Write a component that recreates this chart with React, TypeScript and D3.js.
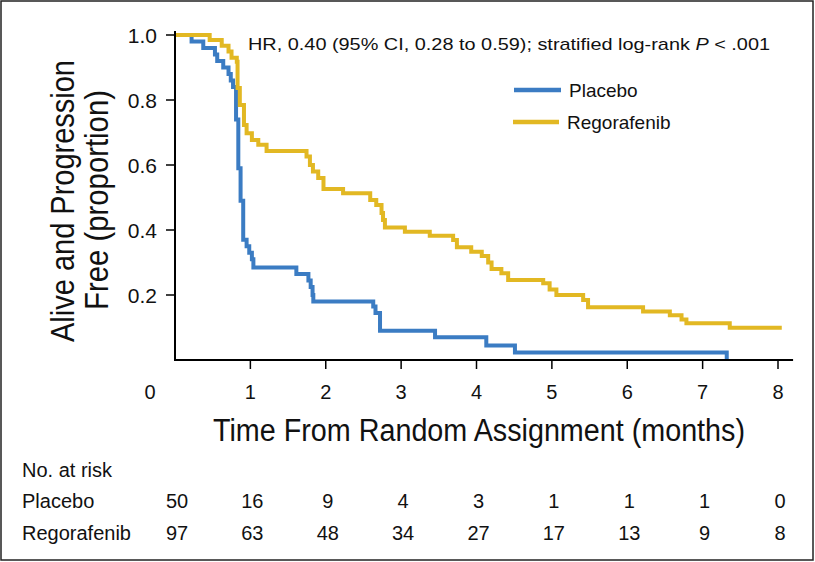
import React from 'react';
import * as d3 from 'd3';

// Kaplan-Meier step data (time in months, survival proportion after step)
const placeboTimes = [0, 0.22, 0.375, 0.53, 0.56, 0.64, 0.71, 0.74, 0.77, 0.81, 0.84, 0.87, 0.905, 0.95, 0.985, 1.02, 1.04, 1.61, 1.77, 1.8, 1.825, 1.835, 2.63, 2.66, 2.72, 3.45, 4.13, 4.51, 7.32];
const placeboSurv = [1.0, 0.98, 0.96, 0.94, 0.92, 0.9, 0.88, 0.86, 0.84, 0.74, 0.59, 0.49, 0.37, 0.35, 0.33, 0.31, 0.285, 0.265, 0.245, 0.225, 0.2, 0.18, 0.165, 0.145, 0.09, 0.07, 0.045, 0.023, 0.0];

const regoTimes = [0, 0.46, 0.62, 0.71, 0.75, 0.82, 0.83, 0.86, 0.915, 0.95, 1.02, 1.105, 1.215, 1.745, 1.79, 1.83, 1.9, 1.97, 2.23, 2.59, 2.67, 2.74, 2.76, 2.785, 3.05, 3.38, 3.69, 3.74, 3.93, 4.07, 4.155, 4.2, 4.33, 4.42, 4.885, 4.97, 5.06, 5.415, 5.48, 6.21, 6.565, 6.72, 6.785, 7.36, 8.05];
const regoSurv = [1.0, 0.985, 0.967, 0.949, 0.93, 0.918, 0.837, 0.785, 0.723, 0.698, 0.677, 0.662, 0.643, 0.626, 0.6, 0.58, 0.56, 0.526, 0.513, 0.492, 0.477, 0.452, 0.431, 0.408, 0.395, 0.382, 0.369, 0.347, 0.333, 0.32, 0.3, 0.28, 0.267, 0.246, 0.236, 0.217, 0.2, 0.185, 0.162, 0.149, 0.138, 0.125, 0.113, 0.0995, 0.0995];

const xTicks = [0, 1, 2, 3, 4, 5, 6, 7, 8];
const yTicks = [0.2, 0.4, 0.6, 0.8, 1.0];
const atRiskPlacebo = [50, 16, 9, 4, 3, 1, 1, 1, 0];
const atRiskRego = [97, 63, 48, 34, 27, 17, 13, 9, 8];

const BLUE = '#3B7CC3';
const YELLOW = '#E2B823';
const FONT = "'Liberation Sans', Arial, Helvetica, sans-serif";

export default function App() {
  const x = d3.scaleLinear().domain([0, 8]).range([175, 778]);
  const y = d3.scaleLinear().domain([0, 1]).range([360, 35]);
  const line = d3
    .line<[number, number]>()
    .x((d) => x(d[0]))
    .y((d) => y(d[1]))
    .curve(d3.curveStepAfter);

  const placebo: [number, number][] = placeboTimes.map((t, i) => [t, placeboSurv[i]]);
  const rego: [number, number][] = regoTimes.map((t, i) => [t, regoSurv[i]]);

  return (
    <svg
      width={815}
      height={562}
      style={{ position: 'fixed', left: 0, top: 0, background: '#fff' }}
      fontFamily={FONT}
    >
      <rect x={0} y={0} width={815} height={562} fill="#fff" />
      <rect x={1} y={1} width={812} height={559} fill="none" stroke="#222" strokeWidth={1.5} />

      {/* curves */}
      <path d={line(placebo) || ''} fill="none" stroke={BLUE} strokeWidth={4} />
      <path d={line(rego) || ''} fill="none" stroke={YELLOW} strokeWidth={4} />

      {/* axes */}
      <line x1={175} x2={175} y1={31} y2={361} stroke="#000" strokeWidth={2} />
      <line x1={174} x2={x(8.2)} y1={360} y2={360} stroke="#000" strokeWidth={2} />
      {yTicks.map((v) => (
        <g key={'y' + v}>
          <line x1={166} x2={175} y1={y(v)} y2={y(v)} stroke="#000" strokeWidth={1.5} />
          <text x={157} y={y(v) + 7.5} fontSize={21} textAnchor="end" fill="#111">
            {v.toFixed(1)}
          </text>
        </g>
      ))}
      {xTicks.map((t) => (
        <g key={'x' + t}>
          {t > 0 && <line x1={x(t)} x2={x(t)} y1={360} y2={369} stroke="#000" strokeWidth={1.5} />}
          <text x={t === 0 ? x(t) - 25 : x(t)} y={399} fontSize={20} textAnchor="middle" fill="#111">
            {t}
          </text>
        </g>
      ))}

      {/* axis titles */}
      <text x={479} y={441} fontSize={31} textAnchor="middle" textLength={532} lengthAdjust="spacingAndGlyphs" fill="#111">
        Time From Random Assignment (months)
      </text>
      <g transform="translate(74,201) rotate(-90)">
        <text x={0} y={0} fontSize={33} textAnchor="middle" textLength={282} lengthAdjust="spacingAndGlyphs" fill="#111">
          Alive and Progression
        </text>
      </g>
      <g transform="translate(108,200) rotate(-90)">
        <text x={0} y={0} fontSize={33} textAnchor="middle" textLength={220} lengthAdjust="spacingAndGlyphs" fill="#111">
          Free (proportion)
        </text>
      </g>

      {/* annotation */}
      <text x={248} y={50} fontSize={17} textLength={522} lengthAdjust="spacingAndGlyphs" fill="#111">
        HR, 0.40 (95% CI, 0.28 to 0.59); stratified log-rank <tspan fontStyle="italic">P</tspan> &lt; .001
      </text>

      {/* legend */}
      <line x1={514} x2={561} y1={90} y2={90} stroke={BLUE} strokeWidth={4.5} />
      <text x={569} y={96.5} fontSize={19} fill="#111">Placebo</text>
      <line x1={513} x2={559} y1={122} y2={122} stroke={YELLOW} strokeWidth={4.5} />
      <text x={567} y={129} fontSize={19} fill="#111">Regorafenib</text>

      {/* number at risk */}
      <text x={22} y={477} fontSize={20} fill="#111">No. at risk</text>
      <text x={22} y={508} fontSize={20} fill="#111">Placebo</text>
      <text x={22} y={540} fontSize={20} fill="#111">Regorafenib</text>
      {xTicks.map((t, i) => (
        <g key={'r' + t}>
          <text x={x(t) + 2} y={508} fontSize={20} textAnchor="middle" fill="#111">
            {atRiskPlacebo[i]}
          </text>
          <text x={x(t) + 2} y={540} fontSize={20} textAnchor="middle" fill="#111">
            {atRiskRego[i]}
          </text>
        </g>
      ))}
    </svg>
  );
}
